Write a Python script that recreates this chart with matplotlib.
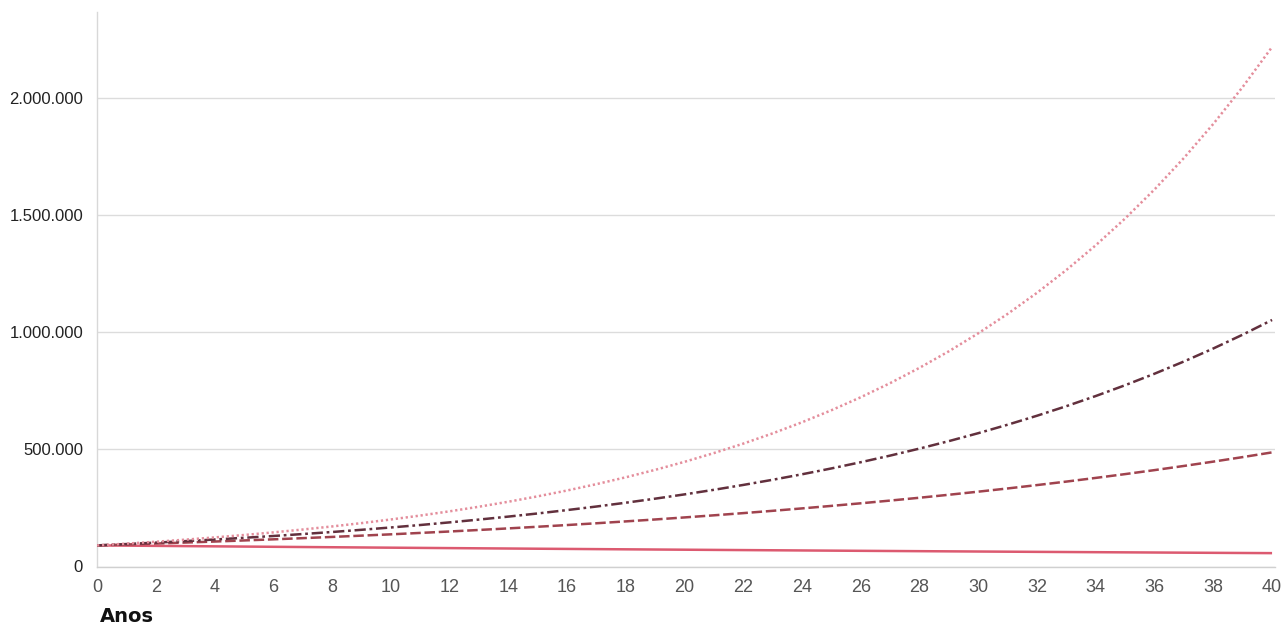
import matplotlib
matplotlib.use("Agg")
import matplotlib.pyplot as plt
from matplotlib.ticker import FuncFormatter, MultipleLocator

# Anos de investimento
anos = list(range(0, 41))

# Valor real (corroído pela inflação)
serie_real = [
    90000, 88980, 87960, 86960, 85980, 85000, 84030, 83080, 82140, 81200,
    80280, 79370, 78470, 77580, 76700, 75830, 74970, 74110, 73270, 72440,
    71620, 70810, 70000, 69210, 68420, 67640, 66870, 66120, 65370, 64620,
    63890, 63160, 62450, 61740, 61040, 60340, 59660, 58980, 58310, 57650,
    57000,
]

# Rendimento moderado
serie_moderada = [
    90000, 93900, 97900, 102100, 106500, 111100, 115900, 120900, 126100, 131600,
    137200, 143200, 149300, 155800, 162500, 169500, 176800, 184400, 192400, 200600,
    209300, 218300, 227700, 237500, 247800, 258500, 269600, 281200, 293300, 306000,
    319200, 332900, 347300, 362200, 377900, 394100, 411100, 428900, 447300, 466600,
    486700,
]

# Rendimento intermediário
serie_intermediaria = [
    90000, 95700, 101800, 108200, 115100, 122400, 130100, 138400, 147100, 156500,
    166400, 176900, 188200, 200100, 212800, 226200, 240600, 255800, 272000, 289300,
    307600, 327100, 347900, 369900, 393300, 418300, 444800, 473000, 503000, 534800,
    568700, 604800, 643100, 683900, 727200, 773300, 822300, 874400, 929900, 988800,
    1051500,
]

# Rendimento alto
serie_alta = [
    90000, 97500, 105600, 114400, 124000, 134300, 145500, 157700, 170800, 185000,
    200500, 217200, 235300, 254900, 276200, 299200, 324100, 351200, 380500, 412200,
    446500, 483800, 524100, 567800, 615200, 666500, 722000, 782200, 847500, 918100,
    994700, 1077600, 1167500, 1264800, 1370300, 1484500, 1608300, 1742400, 1887700, 2045100,
    2215600,
]

y_ticks = [0, 500000, 1000000, 1500000, 2000000]
x_label = "Anos"

W, H = 1286, 625
fig = plt.figure(figsize=(W / 100, H / 100), dpi=100)
fig.patch.set_facecolor("white")
ax = fig.add_axes([97 / W, 1 - 566.5 / H, (1275 - 97) / W, (566.5 - 12) / H])
ax.set_facecolor("white")

ax.plot(anos, serie_real, color="#dc5a70", lw=1.8, solid_capstyle="butt", zorder=3)
ax.plot(anos, serie_moderada, color="#a0434e", lw=1.8,
        linestyle=(0, (4.2, 1.5)), zorder=3)
ax.plot(anos, serie_intermediaria, color="#62303d", lw=1.8,
        linestyle=(0, (4.5, 1.5, 1.1, 1.5)), zorder=3)
ax.plot(anos, serie_alta, color="#e48e9c", lw=1.8,
        linestyle=(0, (0.9, 1.1)), zorder=3)

ax.set_xlim(0, 40.1)
ax.set_ylim(0, 2365000)
ax.xaxis.set_major_locator(MultipleLocator(2))
ax.set_yticks(y_ticks)
ax.yaxis.set_major_formatter(
    FuncFormatter(lambda v, _: f"{v:,.0f}".replace(",", "."))
)

ax.grid(axis="y", color="#dcdcdc", lw=1.0, zorder=1)
ax.grid(axis="x", visible=False)
for side in ("top", "right"):
    ax.spines[side].set_visible(False)
ax.spines["left"].set_color("#d8d8d8")
ax.spines["bottom"].set_color("#d0d0d0")
ax.spines["left"].set_linewidth(1.0)
ax.spines["bottom"].set_linewidth(1.0)

ax.tick_params(axis="y", length=0, pad=10, labelsize=12, labelcolor="#222222")
ax.tick_params(axis="x", length=0, pad=9, labelsize=13, labelcolor="#555555")
for lbl in ax.get_yticklabels() + ax.get_xticklabels():
    lbl.set_fontfamily("Liberation Sans")

fig.text(100 / W, 1 - 622 / H, x_label, fontsize=14, fontweight="bold",
         color="#111111", family="DejaVu Sans", ha="left", va="baseline")

fig.savefig("out.png", dpi=100, facecolor="white")
